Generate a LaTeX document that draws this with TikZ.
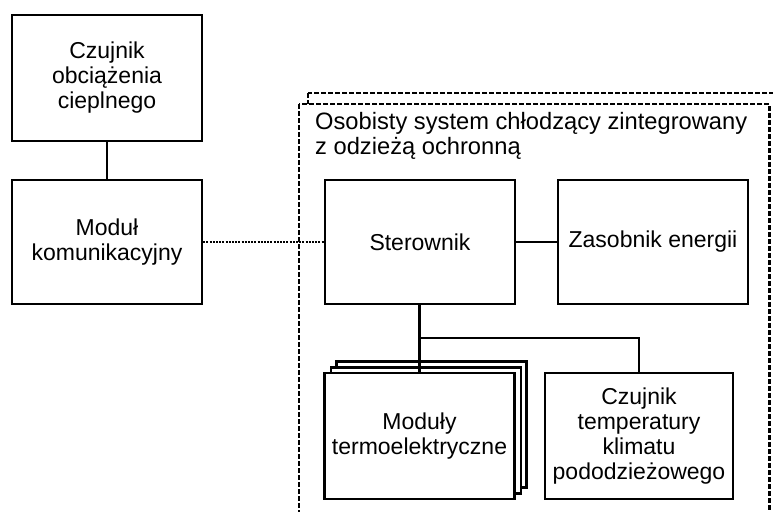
\documentclass[tikz,border=0pt]{standalone}
\usepackage{fontspec}
\setmainfont{Liberation Sans}
\begin{document}
\begin{tikzpicture}[x=1pt,y=-1pt,
  box/.style={draw, line width=2.5pt, fill=white, minimum width=190pt, minimum height=126pt,
    align=center, inner sep=0pt, font=\fontsize{23}{25}\selectfont},
  conn/.style={line width=2.5pt},
  dotconn/.style={line width=2.5pt, dash pattern=on 2pt off 1.2pt},
  cont/.style={line width=2.5pt, dash pattern=on 5pt off 2pt},
  title/.style={anchor=north west, align=left, inner sep=0pt, font=\fontsize{23.7}{25.5}\selectfont}]
\useasboundingbox (0,0) rectangle (773,511);
\begin{scope}
\clip (0,0) rectangle (773,511);
\draw[cont] (308,93) rectangle (790,530);
\draw[cont, fill=white] (299,104) rectangle (769.5,530);
\end{scope}
\node[title] (ttl) at (315,112) {Osobisty system chłodzący zintegrowany\\z odzieżą ochronną};
\node[box] (heat) at (107,78) {Czujnik\\obciążenia\\cieplnego};
\node[box, minimum height=124pt] (comm) at (107,242) {Moduł\\komunikacyjny};
\node[box, minimum height=124pt] (ctrl) at (420,242) {Sterownik};
\node[box, minimum height=124pt] (energy) at (653,242) {Zasobnik energii};
\node[box] (mod3) at (431.5,424.5) {};
\node[box] (mod2) at (426,430.5) {};
\node[box] (mod1) at (419.5,436) {Moduły\\termoelektryczne};
\node[box, minimum width=188pt] (temp) at (639,436) {Czujnik\\temperatury\\klimatu\\pododzieżowego};
\coordinate (br) at (419.5,338);
\draw[conn] (heat) -- (comm);
\draw[dotconn] (comm) -- (ctrl);
\draw[conn] (ctrl) -- (energy);
\draw[conn] (ctrl.south -| br) -- (mod1.north -| br);
\draw[conn] (br) -| (temp.north);
\end{tikzpicture}
\end{document}
